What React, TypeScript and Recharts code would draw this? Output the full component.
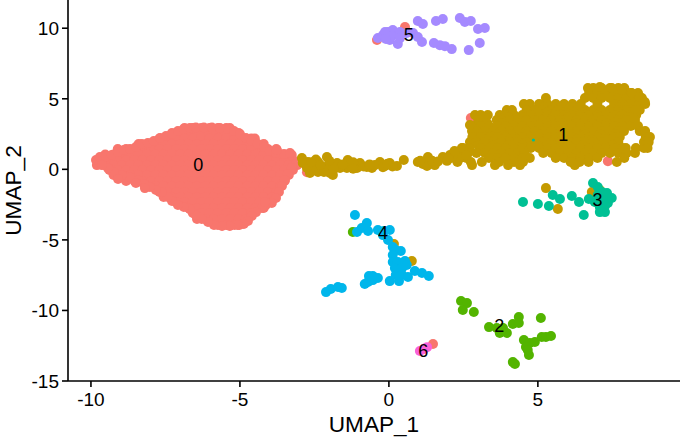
import React from 'react';
import { ScatterChart, Scatter, XAxis, YAxis, Label } from 'recharts';

type Row = [number, number[]];
type Pt = { x: number; y: number; name?: string };

const xTicks = [-10, -5, 0, 5];
const yTicks = [-15, -10, -5, 0, 5, 10];
const clusterNames = ['0', '1', '2', '3', '4', '5', '6'];
const clusterColors = ['#F8766D', '#C49A00', '#53B400', '#00C094', '#00B6EB', '#A58AFF', '#FB61D7'];

// cluster 0: dense cloud, listed per UMAP_2 level
const cluster0Rows: Row[] = [
  [2.93, [-6.86, -6.58, -6.3, -6.02, -5.74, -5.46, -5.34]],
  [2.57, [-7.28, -7, -6.72, -6.44, -6.16, -5.88, -5.6, -5.32, -5.04]],
  [2.18, [-7.7, -7.42, -7.14, -6.86, -6.58, -6.3, -6.02, -5.74, -5.46, -5.18, -4.9, -4.62, -4.5]],
  [1.79, [-8.4, -8.12, -7.84, -7.56, -7.28, -7, -6.72, -6.44, -6.16, -5.88, -5.6, -5.32, -5.04, -4.76, -4.48, -4.2]],
  [1.44, [-9.1, -8.82, -8.54, -8.26, -7.98, -7.7, -7.42, -7.14, -6.86, -6.58, -6.3, -6.02, -5.74, -5.46, -5.18, -4.9, -4.62, -4.34, -4.06, -3.78]],
  [1.05, [-9.52, -9.24, -8.96, -8.68, -8.4, -8.12, -7.84, -7.56, -7.28, -7, -6.72, -6.44, -6.16, -5.88, -5.6, -5.32, -5.04, -4.76, -4.48, -4.2, -3.92, -3.64, -3.36]],
  [0.66, [-9.66, -9.38, -9.1, -8.82, -8.54, -8.26, -7.98, -7.7, -7.42, -7.14, -6.86, -6.58, -6.3, -6.02, -5.74, -5.46, -5.18, -4.9, -4.62, -4.34, -4.06, -3.78, -3.5, -3.22]],
  [0.3, [-9.8, -9.52, -9.24, -8.96, -8.68, -8.4, -8.12, -7.84, -7.56, -7.28, -7, -6.72, -6.44, -6.16, -5.88, -5.6, -5.32, -5.04, -4.76, -4.48, -4.2, -3.92, -3.64, -3.36, -3.08]],
  [-0.05, [-9.38, -9.1, -8.82, -8.54, -8.26, -7.98, -7.7, -7.42, -7.14, -6.86, -6.58, -6.3, -6.02, -5.74, -5.46, -5.18, -4.9, -4.62, -4.34, -4.06, -3.78, -3.5, -3.22]],
  [-0.4, [-9.24, -8.96, -8.68, -8.4, -8.12, -7.84, -7.56, -7.28, -7, -6.72, -6.44, -6.16, -5.88, -5.6, -5.32, -5.04, -4.76, -4.48, -4.2, -3.92, -3.64, -3.36]],
  [-0.83, [-8.82, -8.54, -8.26, -7.98, -7.7, -7.42, -7.14, -6.86, -6.58, -6.3, -6.02, -5.74, -5.46, -5.18, -4.9, -4.62, -4.34, -4.06, -3.78, -3.5]],
  [-1.18, [-8.12, -7.84, -7.56, -7.28, -7, -6.72, -6.44, -6.16, -5.88, -5.6, -5.32, -5.04, -4.76, -4.48, -4.2, -3.92, -3.64]],
  [-1.61, [-7.7, -7.42, -7.14, -6.86, -6.58, -6.3, -6.02, -5.74, -5.46, -5.18, -4.9, -4.62, -4.34, -4.06, -3.78]],
  [-1.96, [-7.56, -7.28, -7, -6.72, -6.44, -6.16, -5.88, -5.6, -5.32, -5.04, -4.76, -4.48, -4.2, -3.92]],
  [-2.32, [-7.14, -6.86, -6.58, -6.3, -6.02, -5.74, -5.46, -5.18, -4.9, -4.62, -4.34, -4.06]],
  [-2.74, [-6.72, -6.44, -6.16, -5.88, -5.6, -5.32, -5.04, -4.76, -4.48, -4.2]],
  [-3.1, [-6.58, -6.3, -6.02, -5.74, -5.46, -5.18, -4.9, -4.62]],
  [-3.52, [-6.44, -6.16, -5.88, -5.6, -5.32, -5.04, -4.8]],
  [-3.95, [-5.74, -5.46, -5.18, -5.02]],
];
const cluster0Extra: [number, number][] = [
  [-9.09, -0.69], [-8.49, -0.97], [-8.19, -1.33], [-3.76, 1.37], [-3.32, 1.15], [-4.16, -2.32],
  [-2.75, -0.2], [2.75, 3.64], [7.35, 0.58], [-0.4, 9.16], [0.54, 10.08], [1.48, -12.38],
];
const cluster0EdgeTop: [number, number][] = [
  [-9.83, 0.66], [-9.7, 0.87], [-9.5, 0.91], [-9.3, 1.01], [-9.09, 1.23], [-8.89, 1.37], [-8.69, 1.44], [-8.49, 1.58],
  [-8.29, 1.79], [-8.09, 1.86], [-7.89, 2.01], [-7.68, 2.22], [-7.48, 2.36], [-7.28, 2.5], [-7.08, 2.71], [-6.88, 2.86],
  [-6.68, 2.93], [-6.48, 2.96], [-6.21, 2.96], [-5.94, 2.96], [-5.67, 2.93], [-5.4, 2.86], [-5.2, 2.71], [-5, 2.5],
  [-4.8, 2.22], [-4.6, 2.01], [-4.4, 1.79], [-4.19, 1.58], [-3.99, 1.3], [-3.79, 1.16], [-3.52, 1.08], [-3.26, 1.01],
];
const cluster0EdgeBottom: [number, number][] = [
  [-3.12, 0.38], [-3.26, 0.09], [-3.39, -0.33], [-3.49, -0.76], [-3.59, -1.18], [-3.69, -1.61], [-3.79, -2.03], [-3.93, -2.39],
  [-4.13, -2.53], [-4.26, -2.74], [-4.46, -3.03], [-4.6, -3.31], [-4.73, -3.66], [-4.87, -3.87], [-5.07, -3.95], [-5.34, -4.02],
  [-5.6, -4.02], [-5.87, -3.95], [-6.07, -3.73], [-6.28, -3.52], [-6.48, -3.24], [-6.68, -2.82], [-6.88, -2.67], [-7.08, -2.53],
  [-7.28, -2.25], [-7.42, -1.96], [-7.62, -1.61], [-7.82, -1.47], [-8.02, -1.25], [-8.22, -1.04], [-8.42, -0.76], [-8.69, -0.55],
  [-8.96, -0.4], [-9.23, -0.19], [-9.43, 0.09], [-9.63, 0.3],
];

// cluster 1: main body per UMAP_2 level, then the tail and strays
const cluster1Rows: Row[] = [
  [5.76, [6.68, 6.86, 7.14, 7.42, 7.7, 7.9]],
  [5.41, [6.72, 7, 7.28, 7.56, 7.84, 8.12, 8.36]],
  [5.05, [5.27, 6.58, 6.86, 7.14, 7.42, 7.7, 7.98, 8.26, 8.49]],
  [4.63, [4.53, 4.73, 5.04, 5.32, 5.6, 5.88, 6.16, 6.44, 7, 7.56, 7.84, 8.12, 8.4, 8.6]],
  [4.42, [5.2, 5.5, 5.8, 6.1, 6.4, 7.7, 8]],
  [4.2, [3.96, 4.13, 4.62, 4.9, 5.18, 5.46, 5.74, 6.02, 6.3, 6.58, 6.86, 7.14, 7.42, 7.7, 7.98, 8.26, 8.42]],
  [4.02, [5, 5.3, 5.6, 5.9, 6.2, 6.5, 6.8, 7.1, 7.4, 7.7, 8]],
  [3.85, [2.89, 3.08, 3.32, 3.72, 3.92, 4.2, 4.48, 4.76, 5.04, 5.32, 5.6, 5.88, 6.16, 6.44, 6.72, 7, 7.28, 7.56, 7.84, 8.12, 8.3]],
  [3.67, [4, 4.5, 5, 5.5, 6, 6.5, 7, 7.5, 8]],
  [3.49, [3, 3.2, 3.62, 3.78, 4.06, 4.34, 4.62, 4.9, 5.18, 5.46, 5.74, 6.02, 6.3, 6.58, 6.86, 7.14, 7.42, 7.7, 7.98, 8.26]],
  [3.28, [3.3, 3.8, 4.3, 4.8, 5.3, 5.8, 6.3, 6.8, 7.3, 7.8]],
  [3.07, [2.8, 3.08, 3.36, 3.64, 3.92, 4.2, 4.48, 4.76, 5.04, 5.32, 5.6, 5.88, 6.16, 6.44, 6.72, 7, 7.28, 7.56, 7.84, 8.12, 8.36]],
  [2.71, [2.79, 2.94, 3.22, 3.5, 3.78, 4.06, 4.34, 4.62, 4.9, 5.18, 5.46, 5.74, 6.02, 6.3, 6.58, 6.86, 7.14, 7.42, 7.7, 7.89, 8.42, 8.6]],
  [2.5, [3.1, 3.6, 4.1, 4.6, 5.1, 5.6, 6.1, 6.6, 7.1, 7.6]],
  [2.29, [2.8, 3.08, 3.36, 3.64, 3.92, 4.2, 4.48, 4.76, 5.04, 5.32, 5.6, 5.88, 6.16, 6.44, 6.72, 7, 7.28, 7.56, 7.75, 8.62, 8.76]],
  [2.1, [3.3, 3.8, 4.3, 5.3, 5.8, 6.3, 6.8, 7.3]],
  [1.93, [2.72, 2.94, 3.22, 3.5, 3.78, 4.06, 4.34, 4.62, 4.9, 5.18, 5.46, 5.74, 6.02, 6.3, 6.58, 6.86, 7.14, 7.42, 7.7, 8.56, 8.72]],
  [1.7, [3, 3.5, 4, 4.5, 5, 5.5, 6, 6.5, 7, 7.5]],
  [1.51, [2.45, 2.7, 3.08, 3.36, 3.64, 3.92, 4.2, 4.48, 4.76, 5.04, 5.32, 5.6, 5.88, 6.16, 6.44, 6.72, 7, 7.28, 7.56, 7.84, 7.95, 8.29, 8.56, 8.68]],
  [1.16, [2.32, 2.66, 2.94, 3.22, 3.5, 3.78, 4.06, 4.34, 4.56, 5.18, 5.46, 5.74, 6.02, 6.3, 6.58, 6.86, 7.14, 7.42, 7.7, 7.98, 8.26]],
  [0.8, [2.18, 2.4, 2.6, 3.36, 3.64, 3.92, 4.2, 4.48, 4.73, 5.6, 5.88, 6.16, 6.44, 6.72, 7, 7.9]],
  [0.52, [2.3, 2.75, 3.12, 3.7, 4.2, 4.5, 6.1, 6.4, 6.7, 7.65]],
  [0.3, [2.79, 3.56, 4.0, 4.4, 6.24]],
];
const cluster1Edge: [number, number][] = [
  [7.08, 5.83], [7.48, 5.76], [7.82, 5.62], [8.15, 5.41], [8.42, 5.12], [8.59, 4.77], [8.36, 4.2], [8.22, 3.64], [2.72, 3.14],
];
const cluster1Tail: [number, number][] = [
  [-2.92, 0.8], [-2.72, 0.52], [-2.89, 0.45], [-2.55, 0.16], [-2.38, -0.19], [-2.08, 0.87], [-2.21, 0.16], [-1.98, 0.3],
  [-1.88, -0.4], [-1.74, 0.45], [-1.38, 0.66], [-1.41, 0.09], [-0.97, 0.45], [-1.07, 0.09], [-0.57, 0.09], [-0.3, 0.52],
  [-0.13, 0.23], [0.27, 0.23], [0.5, 0.66], [0.97, 0.52], [1.14, 0.38], [1.31, 0.87], [1.54, 0.3], [1.81, 0.87], [2.05, 1.01],
  [2.32, 0.8], [2.48, 1.51], [-1.64, 0.09], [-2.65, -0.26], [-0.74, 0.16], [-0.47, 0.3], [0.03, 0.45], [-2.38, 0.52],
  [-1.98, -0.26], [-2.18, -0.19], [-1.28, 0.3], [1.28, 0.23], [-2.75, 0.1], [-2.45, 0.7],
  [-2.6, 0.5], [-2.3, 0.3], [-2, 0.6], [-1.85, 0], [-1.55, 0.35], [-1.2, 0.5], [-1.2, 0.05], [-0.85, 0.2], [-0.65, 0.35],
  [-0.2, 0.15], [-0.05, 0.4], [0.12, 0.2], [1.05, 0.6], [1.45, 0.6], [1.65, 0.55], [1.95, 0.6], [2.15, 0.95], [2.2, 1.3], [2.6, 1], [2, 0.75],
  [5.27, -1.33], [5.67, -2.81], [6.81, -1.61], [7.08, -1.47], [0.17, -5.3], [0.77, -6.5],
];
const cluster2Points: [number, number][] = [
  [2.42, -9.33], [2.62, -9.48], [2.48, -9.97], [2.85, -10.11], [3.36, -11.18], [3.62, -11.25], [3.72, -11.6], [3.96, -11.6],
  [3.83, -11.25], [4.16, -10.96], [4.36, -10.47], [4.36, -10.89], [5.1, -10.54], [4.53, -12.1], [4.73, -12.31], [4.9, -12.24],
  [5.13, -11.88], [5.27, -11.88], [5.44, -11.81], [4.6, -12.59], [4.66, -12.8], [4.7, -13.16], [4.16, -13.66], [4.23, -13.8],
  [-1.21, -4.44],
];
const cluster3Points: [number, number][] = [
  [4.5, -2.32], [5, -2.46], [5.37, -2.6], [5.5, -1.82], [5.74, -2.1], [6.14, -1.89], [6.38, -2.32], [6.54, -3.24], [6.71, -2.1],
  [6.85, -0.97], [7.01, -1.25], [7.08, -3.03], [7.25, -3.03], [7.32, -1.68], [7.48, -2.03], [7.35, -2.39], [7.18, -2.18],
  [7.08, -2.67], [7.25, -2.6], [7.01, -1.82], [7.15, -1.61], [6.91, -2.32],
];
const cluster3Stray: [number, number][] = [[4.85, 2.08]];
const cluster4Points: [number, number][] = [
  [-1.14, -3.24], [-1.07, -4.44], [-0.91, -4.16], [-0.74, -3.81], [-0.7, -4.37], [-0.37, -4.3], [-0.17, -4.37], [0.03, -4.3],
  [-0.2, -4.66], [-0.03, -5.01], [0.13, -5.51], [0.23, -5.72], [0.4, -5.79], [0.13, -6.07], [0.13, -6.57], [0.3, -6.57], [0.54, -6.5],
  [0.2, -7], [0.44, -7], [0.6, -6.78], [0.23, -7.49], [0.44, -7.49], [0.34, -7.92], [0.03, -7.92], [0.64, -7.63], [0.87, -7.21],
  [1.11, -7.35], [1.34, -7.56], [-0.81, -8.13], [-0.67, -7.56], [-0.7, -7.99], [-0.54, -7.85], [-0.37, -7.7], [-0.54, -7.56],
  [-2.11, -8.7], [-1.95, -8.48], [-1.71, -8.34], [-1.58, -8.41],
];
const cluster5Points: [number, number][] = [
  [-0.37, 9.31], [-0.2, 9.52], [-0.03, 9.73], [0.13, 9.87], [0.37, 9.73], [0.03, 9.16], [0.3, 8.88], [0.6, 9.66], [0.81, 9.66],
  [0.97, 9.38], [1.11, 9.02], [0.97, 10.51], [1.14, 10.3], [1.58, 10.51], [1.81, 10.65], [2.38, 10.72], [2.55, 10.44], [2.75, 10.51],
  [2.99, 9.94], [3.22, 10.02], [3.05, 8.95], [2.68, 8.45], [2.11, 8.52], [1.88, 8.73], [1.71, 8.8], [1.51, 8.95],
  [-0.13, 9.73], [0.1, 9.45], [0.37, 9.3], [-0.1, 9.23],
];
const cluster6Points: [number, number][] = [[1.17, -12.74], [1.04, -12.88], [1.28, -12.6]];
const labelX = [-6.4, 5.85, 3.7, 7.0, -0.2, 0.67, 1.15];
const labelY = [0.3, 2.45, -11.1, -2.2, -4.5, 9.5, -12.9];

const fromPairs = (pairs: [number, number][]): Pt[] => pairs.map(([x, y]) => ({ x, y }));
const fromRows = (rows: Row[]): Pt[] => rows.flatMap(([y, xs]) => xs.map((x) => ({ x, y })));

const seriesData: Pt[][] = [
  [...fromRows(cluster0Rows), ...fromPairs(cluster0EdgeTop), ...fromPairs(cluster0EdgeBottom), ...fromPairs(cluster0Extra)],
  [...fromRows(cluster1Rows), ...fromPairs(cluster1Edge), ...fromPairs(cluster1Tail)],
  fromPairs(cluster2Points),
  fromPairs(cluster3Points),
  fromPairs(cluster4Points),
  fromPairs(cluster5Points),
  fromPairs(cluster6Points),
];
const labelData: Pt[] = clusterNames.map((name, i) => ({ x: labelX[i], y: labelY[i], name }));

const font = '"Liberation Sans", Arial, Helvetica, sans-serif';
const dot = (color: string, r: number) => (p: any) => <circle cx={p.cx} cy={p.cy} r={r} fill={color} />;
const labelShape = (p: any) => (
  <text x={p.cx} y={p.cy} fontSize={18} fontFamily={font} fill="#000" textAnchor="middle" dominantBaseline="central">
    {p.payload.name}
  </text>
);
const tickStyle = { fontSize: 19, fontFamily: font, fill: '#000' };
const lineStyle = { stroke: '#000', strokeWidth: 1.6 };
const R = 5;

export default function App() {
  return (
    <div style={{ position: 'absolute', left: 0, top: 0, width: 680, height: 439, background: '#fff' }}>
      <ScatterChart width={680} height={439} margin={{ top: 0, right: 0, bottom: 0, left: 0 }}>
        <XAxis
          type="number"
          dataKey="x"
          domain={[-10.77, 9.77]}
          ticks={xTicks}
          height={58}
          tickSize={6}
          tickMargin={6}
          tick={tickStyle}
          axisLine={lineStyle}
          tickLine={lineStyle}
          allowDataOverflow
        >
          <Label value="UMAP_1" position="insideBottom" offset={7} style={{ fontSize: 22.6, fontFamily: font, fill: '#000' }} />
        </XAxis>
        <YAxis
          type="number"
          dataKey="y"
          domain={[-15, 12]}
          ticks={yTicks}
          width={68}
          tickSize={6}
          tickMargin={3}
          tick={tickStyle}
          axisLine={lineStyle}
          tickLine={lineStyle}
          allowDataOverflow
        >
          <Label value="UMAP_2" angle={-90} position="insideLeft" offset={13} style={{ fontSize: 22.6, fontFamily: font, fill: '#000', textAnchor: 'middle' }} />
        </YAxis>
        <Scatter data={seriesData[0]} shape={dot(clusterColors[0], R)} isAnimationActive={false} />
        <Scatter data={seriesData[1]} shape={dot(clusterColors[1], R)} isAnimationActive={false} />
        <Scatter data={fromPairs(cluster3Stray)} shape={dot(clusterColors[3], 1.6)} isAnimationActive={false} />
        <Scatter data={seriesData[2]} shape={dot(clusterColors[2], R)} isAnimationActive={false} />
        <Scatter data={seriesData[3]} shape={dot(clusterColors[3], R)} isAnimationActive={false} />
        <Scatter data={seriesData[4]} shape={dot(clusterColors[4], R)} isAnimationActive={false} />
        <Scatter data={seriesData[5]} shape={dot(clusterColors[5], R)} isAnimationActive={false} />
        <Scatter data={seriesData[6]} shape={dot(clusterColors[6], R)} isAnimationActive={false} />
        <Scatter data={labelData} shape={labelShape} isAnimationActive={false} />
      </ScatterChart>
    </div>
  );
}
